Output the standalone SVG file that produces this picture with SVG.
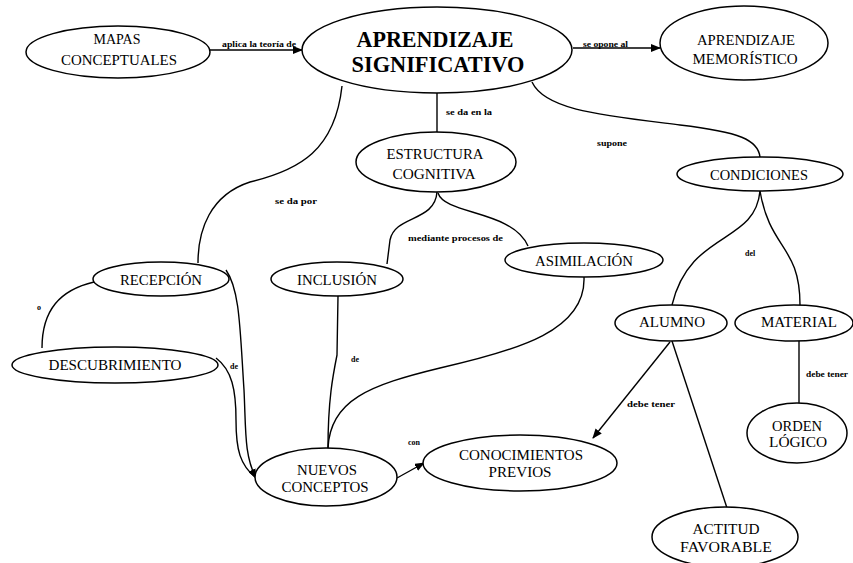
<svg xmlns="http://www.w3.org/2000/svg" width="853" height="563" viewBox="0 0 853 563">
<style>
.n ellipse{fill:#fff;stroke:#000;stroke-width:1.5}
.n text{font-family:"Liberation Serif","Times New Roman",serif;font-size:15px;fill:#000;text-anchor:middle}
.n text.big{font-size:24px;font-weight:bold}
#connectors path,#connectors line{fill:none;stroke:#000;stroke-width:1.4}
.lbl{font-family:"Liberation Serif","Times New Roman",serif;font-size:8px;fill:#000;font-weight:bold}
</style>
<defs>
<marker id="arr" markerUnits="userSpaceOnUse" markerWidth="10" markerHeight="8" refX="9" refY="4" orient="auto">
<path d="M0,0 L10,4 L0,8 z" fill="#000"/>
</marker>
</defs>
<rect width="853" height="563" fill="#fff"/>
<g id="connectors">
<line x1="210" y1="50" x2="302" y2="50" marker-end="url(#arr)"/>
<line x1="573" y1="48" x2="660" y2="48" marker-end="url(#arr)"/>
<line x1="437" y1="93" x2="437" y2="133"/>
<path d="M342,86 C335,150 300,170 250,182 C210,195 198,230 198,263"/>
<path d="M437,192 C435,222 395,215 390,240 L387,264"/>
<path d="M438,193 C445,215 512,210 528,246"/>
<path d="M532,82 C545,110 600,115 680,125 C740,132 758,140 760,157"/>
<path d="M760,191 C755,245 690,230 672,305"/>
<path d="M760,191 C770,250 800,245 800,305"/>
<line x1="670" y1="342" x2="593" y2="438" marker-end="url(#arr)"/>
<line x1="672" y1="341" x2="727" y2="508"/>
<line x1="799" y1="341" x2="799" y2="403"/>
<path d="M94,282 C60,290 42,310 42,348"/>
<path d="M226,270 C240,290 240,330 244,390 C246,430 244,455 256,478" marker-end="url(#arr)"/>
<path d="M216,358 C232,370 236,390 236,420 C236,450 240,465 256,478"/>
<path d="M338,296 L337,355 C333,375 328,400 328,448"/>
<path d="M584,277 C586,330 520,350 440,368 C370,385 330,400 328,448"/>
<line x1="397" y1="478" x2="424" y2="463" marker-end="url(#arr)"/>
<text class="lbl" x="222" y="47" textLength="74" lengthAdjust="spacingAndGlyphs">aplica la teoría de</text>
<text class="lbl" x="583" y="47" textLength="45" lengthAdjust="spacingAndGlyphs">se opone al</text>
<text class="lbl" x="446" y="115" textLength="46" lengthAdjust="spacingAndGlyphs">se da en la</text>
<text class="lbl" x="275" y="204" textLength="42" lengthAdjust="spacingAndGlyphs">se da por</text>
<text class="lbl" x="408" y="241" textLength="95" lengthAdjust="spacingAndGlyphs">mediante procesos de</text>
<text class="lbl" x="597" y="146" textLength="30" lengthAdjust="spacingAndGlyphs">supone</text>
<text class="lbl" x="745" y="256">del</text>
<text class="lbl" x="37" y="310">o</text>
<text class="lbl" x="230" y="369">de</text>
<text class="lbl" x="351" y="362">de</text>
<text class="lbl" x="408" y="445">con</text>
<text class="lbl" x="627" y="407" textLength="48" lengthAdjust="spacingAndGlyphs">debe tener</text>
<text class="lbl" x="806" y="377" textLength="42" lengthAdjust="spacingAndGlyphs">debe tener</text>
</g>
<g id="mapas" class="n"><ellipse cx="118" cy="52" rx="92" ry="26"/><text x="117" y="44" textLength="47" lengthAdjust="spacingAndGlyphs">MAPAS</text><text x="119" y="65" textLength="116" lengthAdjust="spacingAndGlyphs">CONCEPTUALES</text></g>
<g id="aprendizaje-significativo" class="n"><ellipse cx="437" cy="50" rx="135" ry="43"/><text class="big" x="435" y="47" textLength="157" lengthAdjust="spacingAndGlyphs">APRENDIZAJE</text><text class="big" x="438" y="72" textLength="173" lengthAdjust="spacingAndGlyphs">SIGNIFICATIVO</text></g>
<g id="aprendizaje-memoristico" class="n"><ellipse cx="744" cy="43" rx="84" ry="37"/><text x="746" y="45" textLength="98" lengthAdjust="spacingAndGlyphs">APRENDIZAJE</text><text x="745" y="64" textLength="105" lengthAdjust="spacingAndGlyphs">MEMORÍSTICO</text></g>
<g id="estructura-cognitiva" class="n"><ellipse cx="436" cy="162" rx="80" ry="30"/><text x="435" y="159" textLength="97" lengthAdjust="spacingAndGlyphs">ESTRUCTURA</text><text x="434" y="179" textLength="83" lengthAdjust="spacingAndGlyphs">COGNITIVA</text></g>
<g id="recepcion" class="n"><ellipse cx="161" cy="279" rx="68" ry="17"/><text x="161" y="285" textLength="82" lengthAdjust="spacingAndGlyphs">RECEPCIÓN</text></g>
<g id="inclusion" class="n"><ellipse cx="337" cy="279" rx="66" ry="17"/><text x="337" y="285" textLength="80" lengthAdjust="spacingAndGlyphs">INCLUSIÓN</text></g>
<g id="asimilacion" class="n"><ellipse cx="584" cy="260" rx="79" ry="17"/><text x="584" y="266" textLength="98" lengthAdjust="spacingAndGlyphs">ASIMILACIÓN</text></g>
<g id="condiciones" class="n"><ellipse cx="760" cy="174" rx="83" ry="17"/><text x="759" y="180" textLength="98" lengthAdjust="spacingAndGlyphs">CONDICIONES</text></g>
<g id="alumno" class="n"><ellipse cx="671" cy="323" rx="56" ry="18"/><text x="672" y="327" textLength="66" lengthAdjust="spacingAndGlyphs">ALUMNO</text></g>
<g id="material" class="n"><ellipse cx="794" cy="323" rx="59" ry="18"/><text x="799" y="327" textLength="76" lengthAdjust="spacingAndGlyphs">MATERIAL</text></g>
<g id="descubrimiento" class="n"><ellipse cx="115" cy="365" rx="103" ry="18"/><text x="115" y="370" textLength="133" lengthAdjust="spacingAndGlyphs">DESCUBRIMIENTO</text></g>
<g id="nuevos-conceptos" class="n"><ellipse cx="326" cy="477" rx="71" ry="29"/><text x="327" y="475" textLength="60" lengthAdjust="spacingAndGlyphs">NUEVOS</text><text x="325" y="492" textLength="87" lengthAdjust="spacingAndGlyphs">CONCEPTOS</text></g>
<g id="conocimientos-previos" class="n"><ellipse cx="520" cy="463" rx="97" ry="28"/><text x="521" y="460" textLength="124" lengthAdjust="spacingAndGlyphs">CONOCIMIENTOS</text><text x="520" y="477" textLength="63" lengthAdjust="spacingAndGlyphs">PREVIOS</text></g>
<g id="orden-logico" class="n"><ellipse cx="797" cy="433" rx="50" ry="30"/><text x="797" y="431" textLength="50" lengthAdjust="spacingAndGlyphs">ORDEN</text><text x="798" y="447" textLength="58" lengthAdjust="spacingAndGlyphs">LÓGICO</text></g>
<g id="actitud-favorable" class="n"><ellipse cx="725" cy="537" rx="73" ry="30"/><text x="726" y="534" textLength="67" lengthAdjust="spacingAndGlyphs">ACTITUD</text><text x="726" y="552" textLength="92" lengthAdjust="spacingAndGlyphs">FAVORABLE</text></g>
</svg>
